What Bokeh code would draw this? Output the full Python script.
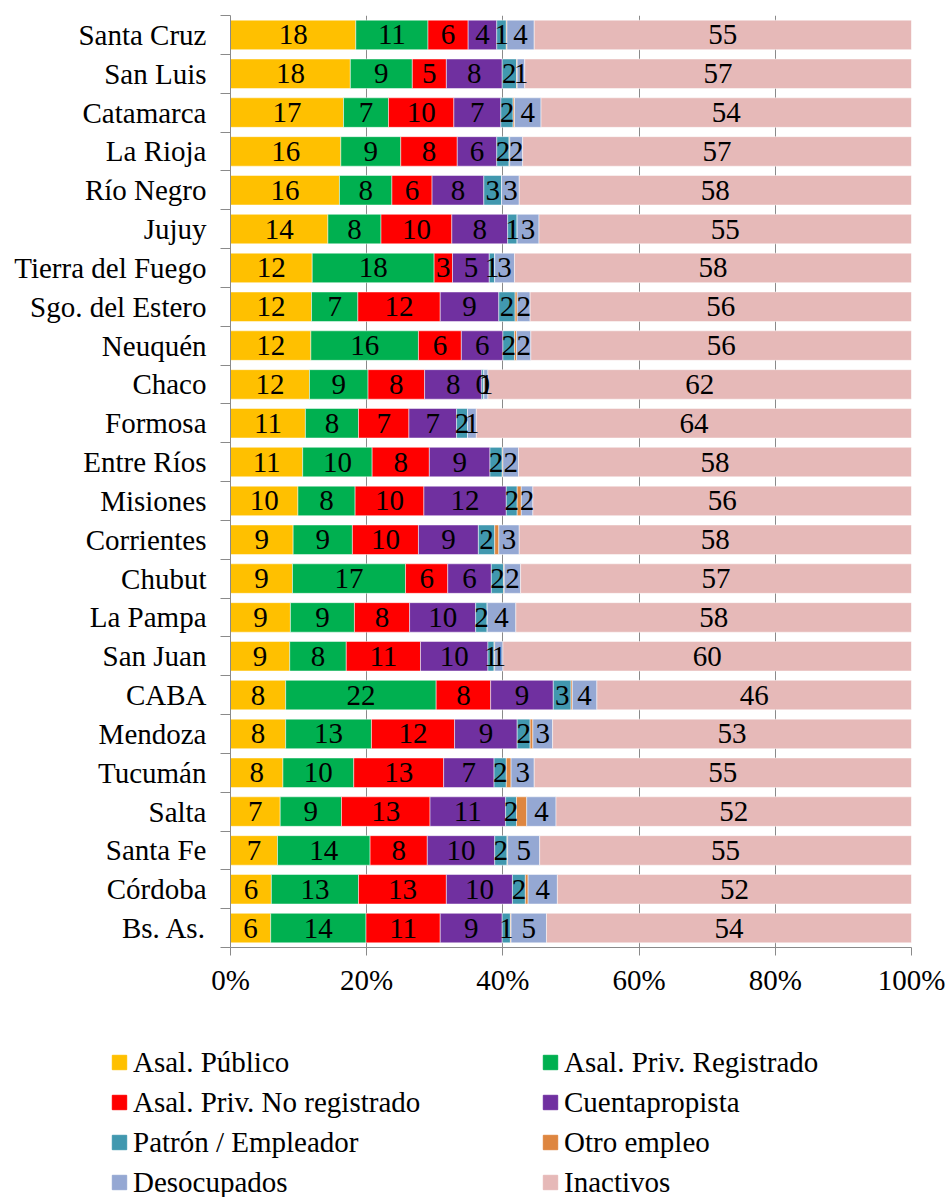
from bokeh.plotting import figure
from bokeh.layouts import column, row
from bokeh.models import (ColumnDataSource, Range1d, FixedTicker, PrintfTickFormatter,
                          Legend, LegendItem)
from bokeh.core.properties import value
from bokeh.embed import file_html
from bokeh.resources import INLINE

# ---------------- data (top to bottom) ----------------
provinces = ["Santa Cruz", "San Luis", "Catamarca", "La Rioja", "Río Negro", "Jujuy",
             "Tierra del Fuego", "Sgo. del Estero", "Neuquén", "Chaco", "Formosa",
             "Entre Ríos", "Misiones", "Corrientes", "Chubut", "La Pampa", "San Juan",
             "CABA", "Mendoza", "Tucumán", "Salta", "Santa Fe", "Córdoba", "Bs. As."]

asal_publico = [18.4, 17.6, 16.6, 16.2, 16.0, 14.3, 12.0, 11.9, 11.8, 11.6, 11.0, 10.6,
                9.9, 9.2, 9.1, 8.8, 8.7, 8.1, 8.1, 7.7, 7.3, 6.9, 6.0, 5.9]
asal_priv_registrado = [10.6, 9.1, 6.6, 8.8, 7.7, 7.8, 17.9, 6.8, 15.8, 8.6, 7.8, 10.2,
                        8.4, 8.7, 16.6, 9.4, 8.3, 22.1, 12.6, 10.4, 9.0, 13.6, 12.8, 14.0]
asal_priv_no_registrado = [5.9, 5.0, 9.6, 8.3, 5.9, 10.4, 2.7, 12.1, 6.3, 8.3, 7.4, 8.4,
                           10.1, 9.7, 6.2, 8.1, 10.9, 8.0, 12.2, 13.2, 13.0, 8.4, 12.9, 10.9]
cuentapropista = [4.2, 8.2, 6.9, 5.8, 7.6, 8.2, 5.4, 8.6, 6.1, 8.4, 7.0, 8.9,
                  12.1, 8.8, 6.4, 9.7, 9.9, 9.2, 9.2, 7.4, 11.1, 9.9, 9.7, 9.1]
patron_empleador = [1.4, 2.1, 1.8, 1.8, 2.6, 1.4, 0.8, 2.4, 1.7, 0.3, 1.6, 1.8,
                    1.6, 2.4, 1.8, 1.7, 0.9, 2.6, 1.9, 1.8, 1.6, 1.8, 1.9, 1.2]
otro_empleo = [0.1, 0.1, 0.2, 0.1, 0.0, 0.0, 0.0, 0.3, 0.3, 0.0, 0.0, 0.1,
               0.6, 0.6, 0.1, 0.0, 0.1, 0.2, 0.4, 0.7, 1.5, 0.1, 0.4, 0.1]
desocupados = [4.0, 1.1, 3.9, 1.9, 2.6, 3.2, 2.9, 1.9, 2.1, 0.6, 1.3, 2.3,
               1.7, 3.0, 2.4, 4.2, 1.2, 3.6, 2.9, 3.4, 4.3, 4.7, 4.3, 5.2]
inactivos = [55.4, 56.8, 54.4, 57.1, 57.6, 54.7, 58.3, 56.0, 55.9, 62.2, 63.9, 57.7,
             55.6, 57.6, 57.4, 58.1, 60.0, 46.2, 52.7, 55.4, 52.2, 54.6, 52.0, 53.6]

series_labels = ["Asal. Público", "Asal. Priv. Registrado", "Asal. Priv. No registrado",
                 "Cuentapropista", "Patrón / Empleador", "Otro empleo", "Desocupados",
                 "Inactivos"]
series_keys = ["pub", "reg", "noreg", "cta", "pat", "otro", "des", "ina"]
series_values = [asal_publico, asal_priv_registrado, asal_priv_no_registrado, cuentapropista,
                 patron_empleador, otro_empleo, desocupados, inactivos]
colors = ["#FFC000", "#00B050", "#FF0000", "#7030A0", "#4198AF", "#DE8640", "#95A8D3",
          "#E6B9B8"]
show_labels = [True, True, True, True, True, False, True, True]

xticks = [0, 20, 40, 60, 80, 100]

FONT = "Liberation Serif"
FS = "29px"
GRAY = "#8a8a8a"

n = len(provinces)
ypos = list(range(n, 0, -1))

data = {"y": ypos}
for k, v in zip(series_keys, series_values):
    data[k] = v
src = ColumnDataSource(data)

p = figure(width=949, height=1010, x_range=Range1d(0, 100), y_range=Range1d(0.5, n + 0.5),
           output_backend="svg", toolbar_location=None,
           min_border_left=230, min_border_right=38, min_border_top=15, min_border_bottom=63)
p.outline_line_color = None
p.ygrid.visible = False
p.xgrid.grid_line_color = GRAY
p.xgrid.grid_line_width = 1

renderers = p.hbar_stack(series_keys, y="y", height=0.76, fill_color=colors,
                         line_color="white", line_width=0.6, line_alpha=0.8, source=src)

# labels centred in each segment
lx, ly, lt = [], [], []
cum = [0.0] * n
for vals, show in zip(series_values, show_labels):
    for i in range(n):
        if show:
            lx.append(cum[i] + vals[i] / 2.0)
            ly.append(ypos[i])
            lt.append(f"{vals[i]:.0f}")
        cum[i] += vals[i]
lsrc = ColumnDataSource(dict(x=lx, y=ly, t=lt))
p.text(x="x", y="y", text="t", source=lsrc, text_align="center", text_baseline="middle",
       text_font=value(FONT), text_font_size=FS, text_color="black")

# x axis
xa = p.xaxis[0]
xa.ticker = FixedTicker(ticks=xticks)
xa.formatter = PrintfTickFormatter(format="%d%%")
xa.axis_line_color = GRAY
xa.major_tick_line_color = GRAY
xa.major_tick_out = 8
xa.major_tick_in = 0
xa.minor_tick_line_color = None
xa.major_label_standoff = 8
xa.major_label_text_font = FONT
xa.major_label_text_font_size = FS
xa.major_label_text_color = "black"

# y axis
ya = p.yaxis[0]
ya.ticker = FixedTicker(ticks=ypos, minor_ticks=[i + 0.5 for i in range(n + 1)])
ya.major_label_overrides = {y: name for y, name in zip(ypos, provinces)}
ya.axis_line_color = GRAY
ya.major_tick_line_color = None
ya.major_tick_out = 10
ya.major_tick_in = 0
ya.minor_tick_line_color = GRAY
ya.minor_tick_out = 10
ya.minor_tick_in = 0
ya.major_label_standoff = 14
ya.major_label_text_font = FONT
ya.major_label_text_font_size = FS
ya.major_label_text_color = "black"

# ---------------- legend figure ----------------
pl = figure(width=949, height=187, x_range=Range1d(0, 1), y_range=Range1d(0, 1),
            output_backend="svg", toolbar_location=None,
            x_axis_location=None, y_axis_location=None,
            min_border_left=0, min_border_right=0, min_border_top=0, min_border_bottom=0)
pl.outline_line_color = None
pl.grid.visible = False
# legend proxies (one off-range swatch each)
leg_renderers = [pl.hbar(y=[-5], left=[0], right=[1], height=0.5, color=c) for c in colors]

items = [LegendItem(label=lab, renderers=[r]) for lab, r in zip(series_labels, leg_renderers)]
legend = Legend(items=items, location=(110, -5), orientation="horizontal", ncols=2,
                glyph_width=18, glyph_height=18, label_standoff=5, label_width=408,
                label_height=40, spacing=0, padding=0, margin=0,
                border_line_color=None, background_fill_alpha=0,
                label_text_font=FONT, label_text_font_size=FS, label_text_color="black")
pl.add_layout(legend)

layout = column(p, row(pl), spacing=0)
open("out.html", "w").write(file_html(layout, INLINE))
